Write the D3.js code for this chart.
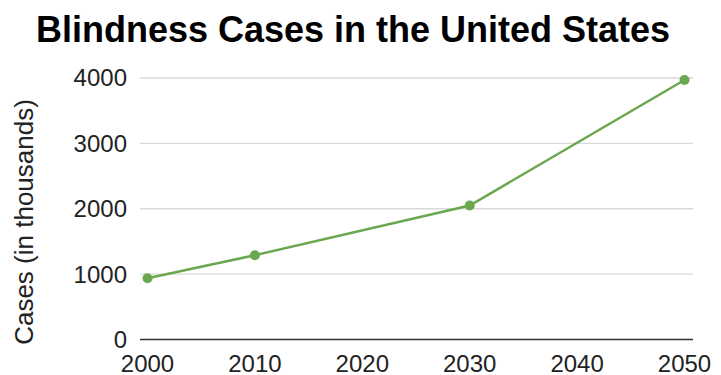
<!DOCTYPE html>
<html>
<head>
<meta charset="utf-8">
<script src="https://cdn.jsdelivr.net/npm/d3@7"></script>
<style>
  body { margin: 0; background: #fff; }
  text { font-family: "Liberation Sans", Arial, sans-serif; }
</style>
</head>
<body>
<div id="chart"></div>
<script>
// data
const years = [2000, 2010, 2030, 2050];
const cases = [937, 1290, 2050, 3970];
const yTicks = [0, 1000, 2000, 3000, 4000];
const xTicks = [2000, 2010, 2020, 2030, 2040, 2050];

const W = 721, H = 375;
const green = "#6aa84f";

const svg = d3.select("#chart").append("svg")
  .attr("width", W).attr("height", H);

const x = d3.scaleLinear().domain([2000, 2050]).range([147.5, 684.5]);
const y = d3.scaleLinear().domain([0, 4000]).range([339.5, 78]);

// gridlines
svg.append("g")
  .selectAll("line")
  .data(yTicks.filter(d => d > 0))
  .join("line")
  .attr("x1", 140).attr("x2", 693)
  .attr("y1", d => y(d)).attr("y2", d => y(d))
  .attr("stroke", "#d9d9d9").attr("stroke-width", 1.3);

// baseline
svg.append("line")
  .attr("x1", 140).attr("x2", 693)
  .attr("y1", y(0)).attr("y2", y(0))
  .attr("stroke", "#333").attr("stroke-width", 1.3);

// y tick labels
svg.append("g")
  .selectAll("text")
  .data(yTicks)
  .join("text")
  .attr("x", 127).attr("y", d => y(d))
  .attr("dy", "0.35em")
  .attr("text-anchor", "end")
  .attr("font-size", 24)
  .attr("fill", "#222")
  .text(d => d);

// x tick labels
svg.append("g")
  .selectAll("text")
  .data(xTicks)
  .join("text")
  .attr("x", d => x(d)).attr("y", 372)
  .attr("text-anchor", "middle")
  .attr("font-size", 24)
  .attr("fill", "#222")
  .text(d => d);

// y axis title
svg.append("text")
  .attr("transform", "translate(33,222) rotate(-90)")
  .attr("text-anchor", "middle")
  .attr("font-size", 26)
  .attr("fill", "#222")
  .text("Cases (in thousands)");

// title
svg.append("text")
  .attr("x", 353).attr("y", 42)
  .attr("text-anchor", "middle")
  .attr("font-size", 36)
  .attr("font-weight", "bold")
  .attr("fill", "#000")
  .text("Blindness Cases in the United States");

// line + points
const pts = years.map((d, i) => [d, cases[i]]);
svg.append("path")
  .datum(pts)
  .attr("fill", "none")
  .attr("stroke", green)
  .attr("stroke-width", 2.5)
  .attr("d", d3.line().x(d => x(d[0])).y(d => y(d[1])));

svg.append("g")
  .selectAll("circle")
  .data(pts)
  .join("circle")
  .attr("cx", d => x(d[0])).attr("cy", d => y(d[1]))
  .attr("r", 5)
  .attr("fill", green);
</script>
</body>
</html>
